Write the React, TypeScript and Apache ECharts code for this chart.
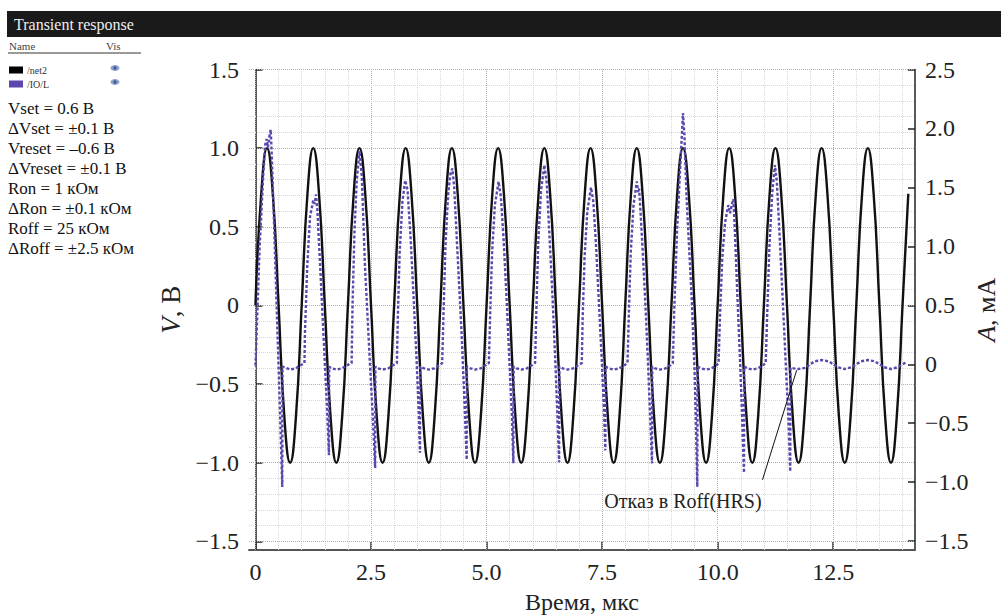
import React, { useEffect, useRef } from "react";
import * as echarts from "echarts";

// ---- data ----
const timeTicks = [0, 2.5, 5, 7.5, 10, 12.5];
const voltTicks = [-1.5, -1, -0.5, 0, 0.5, 1, 1.5];
const currentTicks = [-1.5, -1, -0.5, 0, 0.5, 1, 1.5, 2, 2.5];

const gridTimes = [0, 0.5, 1, 1.5, 2, 2.5, 3, 3.5, 4, 4.5, 5, 5.5, 6, 6.5, 7, 7.5, 8, 8.5, 9, 9.5, 10, 10.5, 11, 11.5, 12, 12.5, 13, 13.5, 14];
const gridVolts = [-1.5, -1.4, -1.3, -1.2, -1.1, -1, -0.9, -0.8, -0.7, -0.6, -0.5, -0.4, -0.3, -0.2, -0.1, 0, 0.1, 0.2, 0.3, 0.4, 0.5, 0.6, 0.7, 0.8, 0.9, 1, 1.1, 1.2, 1.3, 1.4, 1.5];

// /net2 voltage (V), sampled every 0.125 µs
const net2Step = 0.125;
const net2Values = [
  0, 0.71, 1, 0.71, 0, -0.71, -1, -0.71,
  0, 0.71, 1, 0.71, 0, -0.71, -1, -0.71,
  0, 0.71, 1, 0.71, 0, -0.71, -1, -0.71,
  0, 0.71, 1, 0.71, 0, -0.71, -1, -0.71,
  0, 0.71, 1, 0.71, 0, -0.71, -1, -0.71,
  0, 0.71, 1, 0.71, 0, -0.71, -1, -0.71,
  0, 0.71, 1, 0.71, 0, -0.71, -1, -0.71,
  0, 0.71, 1, 0.71, 0, -0.71, -1, -0.71,
  0, 0.71, 1, 0.71, 0, -0.71, -1, -0.71,
  0, 0.71, 1, 0.71, 0, -0.71, -1, -0.71,
  0, 0.71, 1, 0.71, 0, -0.71, -1, -0.71,
  0, 0.71, 1, 0.71, 0, -0.71, -1, -0.71,
  0, 0.71, 1, 0.71, 0, -0.71, -1, -0.71,
  0, 0.71, 1, 0.71, 0, -0.71, -1, -0.71,
  0, 0.71,
];

// /IO/L current (mA): [time µs, current mA]
const ioCurrent = [
  [0.0, -0.01], [0.02, 0.2], [0.05, 0.55], [0.09, 1.0], [0.13, 1.3], [0.17, 1.62], [0.21, 1.86], [0.24, 1.91], [0.27, 1.84], [0.3, 1.93], [0.33, 1.99], [0.35, 1.8], [0.4, 1.22], [0.45, 0.6], [0.5, -0.02], [0.54, -0.52], [0.58, -1.04],
  [0.585, -0.02], [0.65, -0.03], [0.75, -0.045], [0.87, -0.035], [0.97, -0.01], [1.06, 0.01],
  [1.07, 0.26], [1.12, 0.83], [1.18, 1.25], [1.25, 1.39], [1.28, 1.36], [1.31, 1.44], [1.34, 1.3], [1.4, 0.83], [1.47, 0.26], [1.54, -0.3], [1.59, -0.77],
  [1.595, -0.02], [1.65, -0.035], [1.75, -0.045], [1.87, -0.035], [1.97, -0.01], [2.08, 0.01],
  [2.1, 0.5], [2.14, 1.1], [2.19, 1.55], [2.25, 1.81], [2.3, 1.6], [2.37, 0.83], [2.48, -0.02], [2.54, -0.45], [2.59, -0.88],
  [2.595, -0.02], [2.65, -0.035], [2.75, -0.045], [2.87, -0.035], [2.97, -0.01], [3.06, 0.01],
  [3.08, 0.4], [3.12, 0.95], [3.18, 1.38], [3.24, 1.56], [3.29, 1.48], [3.36, 1.05], [3.43, 0.5], [3.49, 0.0], [3.53, -0.38], [3.56, -0.75],
  [3.565, -0.02], [3.65, -0.035], [3.75, -0.045], [3.87, -0.035], [3.97, -0.01], [4.04, 0.01],
  [4.07, 0.45], [4.11, 1.0], [4.17, 1.45], [4.22, 1.62], [4.26, 1.66], [4.3, 1.5], [4.35, 1.11], [4.46, 0.26], [4.52, -0.3], [4.57, -0.81],
  [4.575, -0.02], [4.65, -0.035], [4.75, -0.045], [4.87, -0.035], [4.97, -0.01], [5.05, 0.01],
  [5.08, 0.45], [5.12, 0.95], [5.18, 1.35], [5.26, 1.55], [5.31, 1.42], [5.37, 1.05], [5.44, 0.5], [5.5, -0.02], [5.55, -0.45], [5.58, -0.84],
  [5.585, -0.02], [5.65, -0.035], [5.75, -0.045], [5.87, -0.035], [5.97, -0.01], [6.05, 0.01],
  [6.08, 0.5], [6.12, 1.05], [6.18, 1.48], [6.25, 1.69], [6.3, 1.55], [6.36, 1.1], [6.43, 0.55], [6.49, 0.0], [6.53, -0.4], [6.57, -0.83],
  [6.575, -0.02], [6.65, -0.035], [6.75, -0.045], [6.87, -0.035], [6.97, -0.01], [7.06, 0.01],
  [7.08, 0.4], [7.12, 0.9], [7.18, 1.3], [7.26, 1.5], [7.31, 1.38], [7.37, 1.0], [7.44, 0.45], [7.5, -0.02], [7.54, -0.38], [7.57, -0.73],
  [7.575, -0.02], [7.65, -0.035], [7.75, -0.045], [7.87, -0.035], [7.97, -0.01], [8.05, 0.01],
  [8.08, 0.45], [8.12, 0.95], [8.18, 1.35], [8.25, 1.55], [8.28, 1.46], [8.3, 1.49], [8.33, 1.3], [8.38, 0.95], [8.45, 0.4], [8.5, -0.05], [8.54, -0.45], [8.58, -0.84],
  [8.585, -0.02], [8.65, -0.035], [8.75, -0.045], [8.87, -0.035], [8.97, -0.01], [9.03, 0.01],
  [9.06, 0.45], [9.12, 1.11], [9.19, 1.67], [9.25, 2.13], [9.28, 1.95], [9.33, 1.39], [9.44, 0.55], [9.5, -0.05], [9.53, -0.5], [9.56, -1.04],
  [9.565, -0.02], [9.65, -0.035], [9.75, -0.045], [9.87, -0.035], [9.97, -0.01], [10.02, 0.01],
  [10.05, 0.4], [10.1, 0.9], [10.16, 1.2], [10.23, 1.35], [10.27, 1.28], [10.31, 1.36], [10.34, 1.4], [10.37, 1.15], [10.43, 0.55], [10.49, -0.02], [10.53, -0.45], [10.57, -0.92],
  [10.575, -0.02], [10.65, -0.035], [10.75, -0.045], [10.87, -0.035], [10.97, -0.01], [11.04, 0.01],
  [11.07, 0.4], [11.12, 1.0], [11.18, 1.45], [11.24, 1.69], [11.28, 1.55], [11.34, 1.1], [11.42, 0.45], [11.48, -0.05], [11.53, -0.45], [11.57, -0.91],
  [11.575, -0.03], [11.65, -0.035], [11.75, -0.04], [11.9, -0.03], [12.0, 0.0], [12.1, 0.025], [12.25, 0.036], [12.4, 0.025], [12.5, 0.0], [12.6, -0.025],
  [12.75, -0.04], [12.9, -0.025], [13.0, 0.0], [13.1, 0.025], [13.25, 0.036], [13.4, 0.025], [13.5, 0.0], [13.6, -0.025], [13.75, -0.04], [13.9, -0.025],
  [14.0, 0.0], [14.1, 0.02],
];

const annotationText = "Отказ в Roff(HRS)";
const annotationLineFrom = [10.97, -0.98];
const annotationLineTo = [11.71, -0.05];
const annotationTextAt = [9.25, -1.16];

const paramLines = [
  "Vset = 0.6 В",
  "ΔVset = ±0.1 В",
  "Vreset = –0.6 В",
  "ΔVreset = ±0.1 В",
  "Ron = 1 кОм",
  "ΔRon = ±0.1 кОм",
  "Roff = 25 кОм",
  "ΔRoff = ±2.5 кОм",
];

const legendItems = [
  { name: "/net2", color: "#000000" },
  { name: "/IO/L", color: "#5b47ad" },
];

const FONT = '"Liberation Serif", "DejaVu Serif", serif';
const PURPLE = "#5b47ad";

function fmtSigned(v: number): string {
  if (Math.abs(v) < 1e-9) return "0";
  const s = Math.abs(v).toFixed(1);
  return v < 0 ? "−" + s : s;
}

export default function App() {
  const ref = useRef<HTMLDivElement>(null);

  useEffect(() => {
    if (!ref.current) return;
    const chart = echarts.init(ref.current, undefined, { renderer: "svg" });

    const net2Data = net2Values.map((v, i) => [i * net2Step, v]);
    const isMajor = (v: number, step: number) => Math.abs(v / step - Math.round(v / step)) < 1e-6;

    const gridLineData: any[] = [
      ...gridTimes.map((t) => ({
        xAxis: t,
        lineStyle: { color: isMajor(t, 2.5) ? "#b0b0b0" : "#d6d6d6", width: 1, type: "dotted" },
      })),
      ...gridVolts.map((v) => ({
        yAxis: v,
        lineStyle: { color: isMajor(v, 0.5) ? "#b0b0b0" : "#d6d6d6", width: 1, type: "dotted" },
      })),
    ];

    const graphic: any[] = [
      { type: "rect", shape: { x: 7, y: 11, width: 994, height: 26 }, style: { fill: "#1a1a1a" } },
      { type: "text", x: 14, y: 24, style: { text: "Transient response", fill: "#eeeeee", font: `16px ${FONT}`, verticalAlign: "middle" } },
      { type: "text", x: 9, y: 46, style: { text: "Name", fill: "#444", font: `11px ${FONT}`, verticalAlign: "middle" } },
      { type: "text", x: 106, y: 46, style: { text: "Vis", fill: "#444", font: `11px ${FONT}`, verticalAlign: "middle" } },
      { type: "line", shape: { x1: 8, y1: 53, x2: 141, y2: 53 }, style: { stroke: "#777", lineWidth: 1.5 } },
    ];
    legendItems.forEach((it, i) => {
      const y = 70 + i * 14;
      graphic.push({ type: "rect", shape: { x: 9, y: y - 3.5, width: 14, height: 7 }, style: { fill: it.color } });
      graphic.push({ type: "text", x: 27, y, style: { text: it.name, fill: "#333", font: `10px ${FONT}`, verticalAlign: "middle" } });
      graphic.push({ type: "ellipse", shape: { cx: 115, cy: y - 2, rx: 4.5, ry: 3 }, style: { fill: "#8ea4cc" } });
      graphic.push({ type: "circle", shape: { cx: 115, cy: y - 2, r: 1.7 }, style: { fill: "#3b5b99" } });
    });
    paramLines.forEach((t, i) => {
      graphic.push({ type: "text", x: 8, y: 108 + i * 20, style: { text: t, fill: "#111", font: `17px ${FONT}`, verticalAlign: "middle" } });
    });

    const axisCommon = {
      type: "value" as const,
      axisLine: { show: true, lineStyle: { color: "#222", width: 1.5 } },
      splitLine: { show: false },
      nameLocation: "middle" as const,
    };

    chart.setOption({
      animation: false,
      backgroundColor: "#ffffff",
      textStyle: { fontFamily: FONT },
      grid: { left: 249, right: 86, top: 69.5, bottom: 66, containLabel: false, outerBoundsMode: "none" },
      graphic,
      xAxis: {
        ...axisCommon,
        min: -0.14,
        max: 14.27,
        axisLine: { show: true, onZero: false, lineStyle: { color: "#555", width: 2 } },
        axisTick: { show: true, inside: true, length: 8, customValues: timeTicks, lineStyle: { color: "#333", width: 1.5 } },
        axisLabel: {
          customValues: timeTicks,
          formatter: (v: number) => (v === 0 ? "0" : v.toFixed(1)),
          fontSize: 24,
          color: "#222",
          margin: 10,
          fontFamily: FONT,
        },
        name: "Время, мкс",
        nameGap: 40,
        nameTextStyle: { fontSize: 24, color: "#222", fontFamily: FONT },
      },
      yAxis: [
        {
          ...axisCommon,
          position: "left",
          min: -1.555,
          max: 1.5,
          axisTick: { show: true, inside: true, length: 7, customValues: voltTicks, lineStyle: { color: "#222", width: 1.5 } },
          axisLabel: { customValues: voltTicks, formatter: fmtSigned, fontSize: 24, color: "#222", margin: 10, fontFamily: FONT },
          name: "{i|V}, В",
          nameGap: 64,
          nameTextStyle: {
            fontSize: 27,
            color: "#222",
            fontFamily: FONT,
            rich: { i: { fontStyle: "italic", fontSize: 27, fontFamily: FONT, color: "#222" } },
          },
        },
        {
          ...axisCommon,
          position: "right",
          min: -1.575,
          max: 2.5,
          axisTick: { show: true, inside: true, length: 7, customValues: currentTicks, lineStyle: { color: "#222", width: 1.5 } },
          axisLabel: { customValues: currentTicks, formatter: fmtSigned, fontSize: 24, color: "#222", margin: 10, fontFamily: FONT },
          name: "{i|A}, мА",
          nameGap: 58,
          nameMoveOverlap: false,
          nameTextStyle: {
            fontSize: 26,
            color: "#222",
            fontFamily: FONT,
            rich: { i: { fontStyle: "italic", fontSize: 26, fontFamily: FONT, color: "#222" } },
          },
        },
      ],
      series: [
        {
          name: "/net2",
          type: "line",
          xAxisIndex: 0,
          yAxisIndex: 0,
          data: net2Data,
          smooth: true,
          showSymbol: false,
          symbol: "none",
          z: 3,
          lineStyle: { color: "#111111", width: 2.4 },
          markLine: {
            z: 1,
            silent: true,
            symbol: ["none", "none"],
            label: { show: false },
            data: gridLineData,
          },
        },
        {
          name: "/IO/L",
          type: "line",
          xAxisIndex: 0,
          yAxisIndex: 1,
          data: ioCurrent,
          smooth: false,
          showSymbol: false,
          symbol: "none",
          z: 4,
          lineStyle: { color: PURPLE, width: 2.4, type: [3, 2] },
          markLine: {
            silent: true,
            symbol: ["none", "none"],
            label: { show: false },
            lineStyle: { color: "#111", width: 1, type: "solid" },
            data: [[{ coord: annotationLineFrom }, { coord: annotationLineTo }]],
          },
          markPoint: {
            silent: true,
            data: [
              {
                coord: annotationTextAt,
                symbol: "rect",
                symbolSize: 1,
                itemStyle: { color: "rgba(0,0,0,0)" },
                label: { show: true, position: "inside", formatter: annotationText, fontSize: 20, color: "#222", fontFamily: FONT },
              },
            ],
          },
        },
      ],
    });

    return () => chart.dispose();
  }, []);

  return (
    <div
      ref={ref}
      style={{ position: "fixed", left: 0, top: 0, width: 1001, height: 616, background: "#fff" }}
    />
  );
}
